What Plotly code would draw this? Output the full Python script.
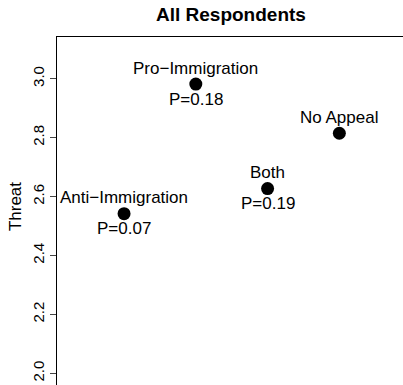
import plotly.graph_objects as go

labels = ["Anti\u2212Immigration", "Pro\u2212Immigration", "Both", "No Appeal"]
pvals = ["P=0.07", "P=0.18", "P=0.19", ""]
xpos = [1, 2, 3, 4]
threat = [2.542, 2.982, 2.627, 2.815]
yticks = [2.0, 2.2, 2.4, 2.6, 2.8, 3.0]

FONT = "Liberation Sans, Arial, Helvetica, sans-serif"

fig = go.Figure()
fig.add_trace(go.Scatter(
    x=xpos, y=threat, mode="markers",
    marker=dict(size=13, color="black"),
    hoverinfo="skip", showlegend=False,
))

annotations = []
for x, y, lab, p in zip(xpos, threat, labels, pvals):
    annotations.append(dict(x=x, y=y, xref="x", yref="y", text=lab, showarrow=False,
                            yshift=16, font=dict(size=17, color="black", family=FONT),
                            xanchor="center", yanchor="middle"))
    if p:
        annotations.append(dict(x=x, y=y, xref="x", yref="y", text=p, showarrow=False,
                                yshift=-15, font=dict(size=17, color="black", family=FONT),
                                xanchor="center", yanchor="middle"))

annotations.append(dict(x=-0.1214, y=0.514, xref="paper", yref="paper", text="Threat",
                        textangle=-90, showarrow=False, xanchor="center", yanchor="middle",
                        font=dict(size=17, color="black", family=FONT)))
annotations.append(dict(x=0.503, y=1 + 22 / 348, xref="paper", yref="paper",
                        text="<b>All Respondents</b>", showarrow=False,
                        xanchor="center", yanchor="middle",
                        font=dict(size=19, color="black", family=FONT)))

fig.update_layout(
    width=403, height=385,
    margin=dict(l=57, r=0, t=37, b=0),
    paper_bgcolor="white", plot_bgcolor="white",
    annotations=annotations,
    xaxis=dict(range=[0.0656, 4.887], side="top", showline=True, linecolor="black",
               linewidth=1, showgrid=False, zeroline=False, showticklabels=False, ticks=""),
    yaxis=dict(range=[1.9602, 3.1417], showline=True, linecolor="black", linewidth=1,
               showgrid=False, zeroline=False, ticks="outside", ticklen=6, tickcolor="#444",
               tickvals=yticks, ticktext=[f"{v:.1f}" for v in yticks], tickangle=-90,
               tickfont=dict(size=15, color="black", family=FONT)),
)

fig.write_html("out.html")
